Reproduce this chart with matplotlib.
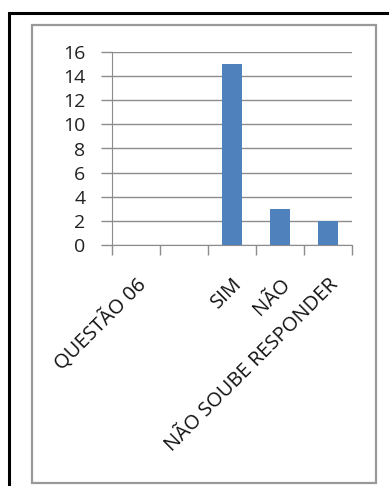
import matplotlib
matplotlib.use("Agg")
import matplotlib.pyplot as plt
from matplotlib.patches import Rectangle
from matplotlib.transforms import ScaledTranslation

categories = ["QUESTÃO 06", "", "SIM", "NÃO", "NÃO SOUBE RESPONDER"]
values = [0, 0, 15, 3, 2]
yticks = [0, 2, 4, 6, 8, 10, 12, 14, 16]

W, H = 389, 486
fig = plt.figure(figsize=(W / 100, H / 100), dpi=100)
plt.rcParams['font.family'] = ['Open Sans', 'DejaVu Sans']

# outer black frame and inner gray frame
fig.patches.append(Rectangle((8.5 / W, 1 - 560 / H), 420 / W, 547 / H, transform=fig.transFigure,
                             fill=False, edgecolor='black', linewidth=2.2))
fig.patches.append(Rectangle((32 / W, 1 - 483 / H), 344 / W, 458 / H, transform=fig.transFigure,
                             fill=False, edgecolor='#999999', linewidth=1.6))

left, right = 112 / W, 352 / W
top, bottom = 1 - 52 / H, 1 - 245 / H
ax = fig.add_axes([left, bottom, right - left, top - bottom])

x = list(range(len(categories)))
ax.bar(x, values, width=0.4, color='#4F81BD', zorder=3)
ax.set_xlim(-0.5, len(categories) - 0.5)
ax.set_ylim(0, 16)
ax.set_yticks(yticks)
ax.set_yticklabels([str(v) for v in yticks], fontsize=14, color='#222222')
ax.yaxis.grid(True, color='#8c8c8c', linewidth=1.0, zorder=0)
ax.set_axisbelow(True)

ax.set_xticks(x)
ax.set_xticklabels(categories, rotation=45, ha='right', va='top', rotation_mode='anchor',
                   fontsize=14.5, color='#111111')
shift = ScaledTranslation(-4 / 100, -2 / 100, fig.dpi_scale_trans)
for lbl in ax.get_xticklabels():
    lbl.set_transform(lbl.get_transform() + shift)
ax.set_xticks([i - 0.5 for i in range(len(categories) + 1)], minor=True)
ax.tick_params(axis='x', which='major', length=0, pad=21)
ax.tick_params(axis='x', which='minor', length=7, color='#8c8c8c', width=1.0)
ax.tick_params(axis='y', length=8, color='#8c8c8c', width=1.0, pad=11)

for s in ['top', 'right']:
    ax.spines[s].set_visible(False)
ax.spines['left'].set_color('#8c8c8c')
ax.spines['bottom'].set_color('#8c8c8c')

fig.savefig("out.png", dpi=100)
